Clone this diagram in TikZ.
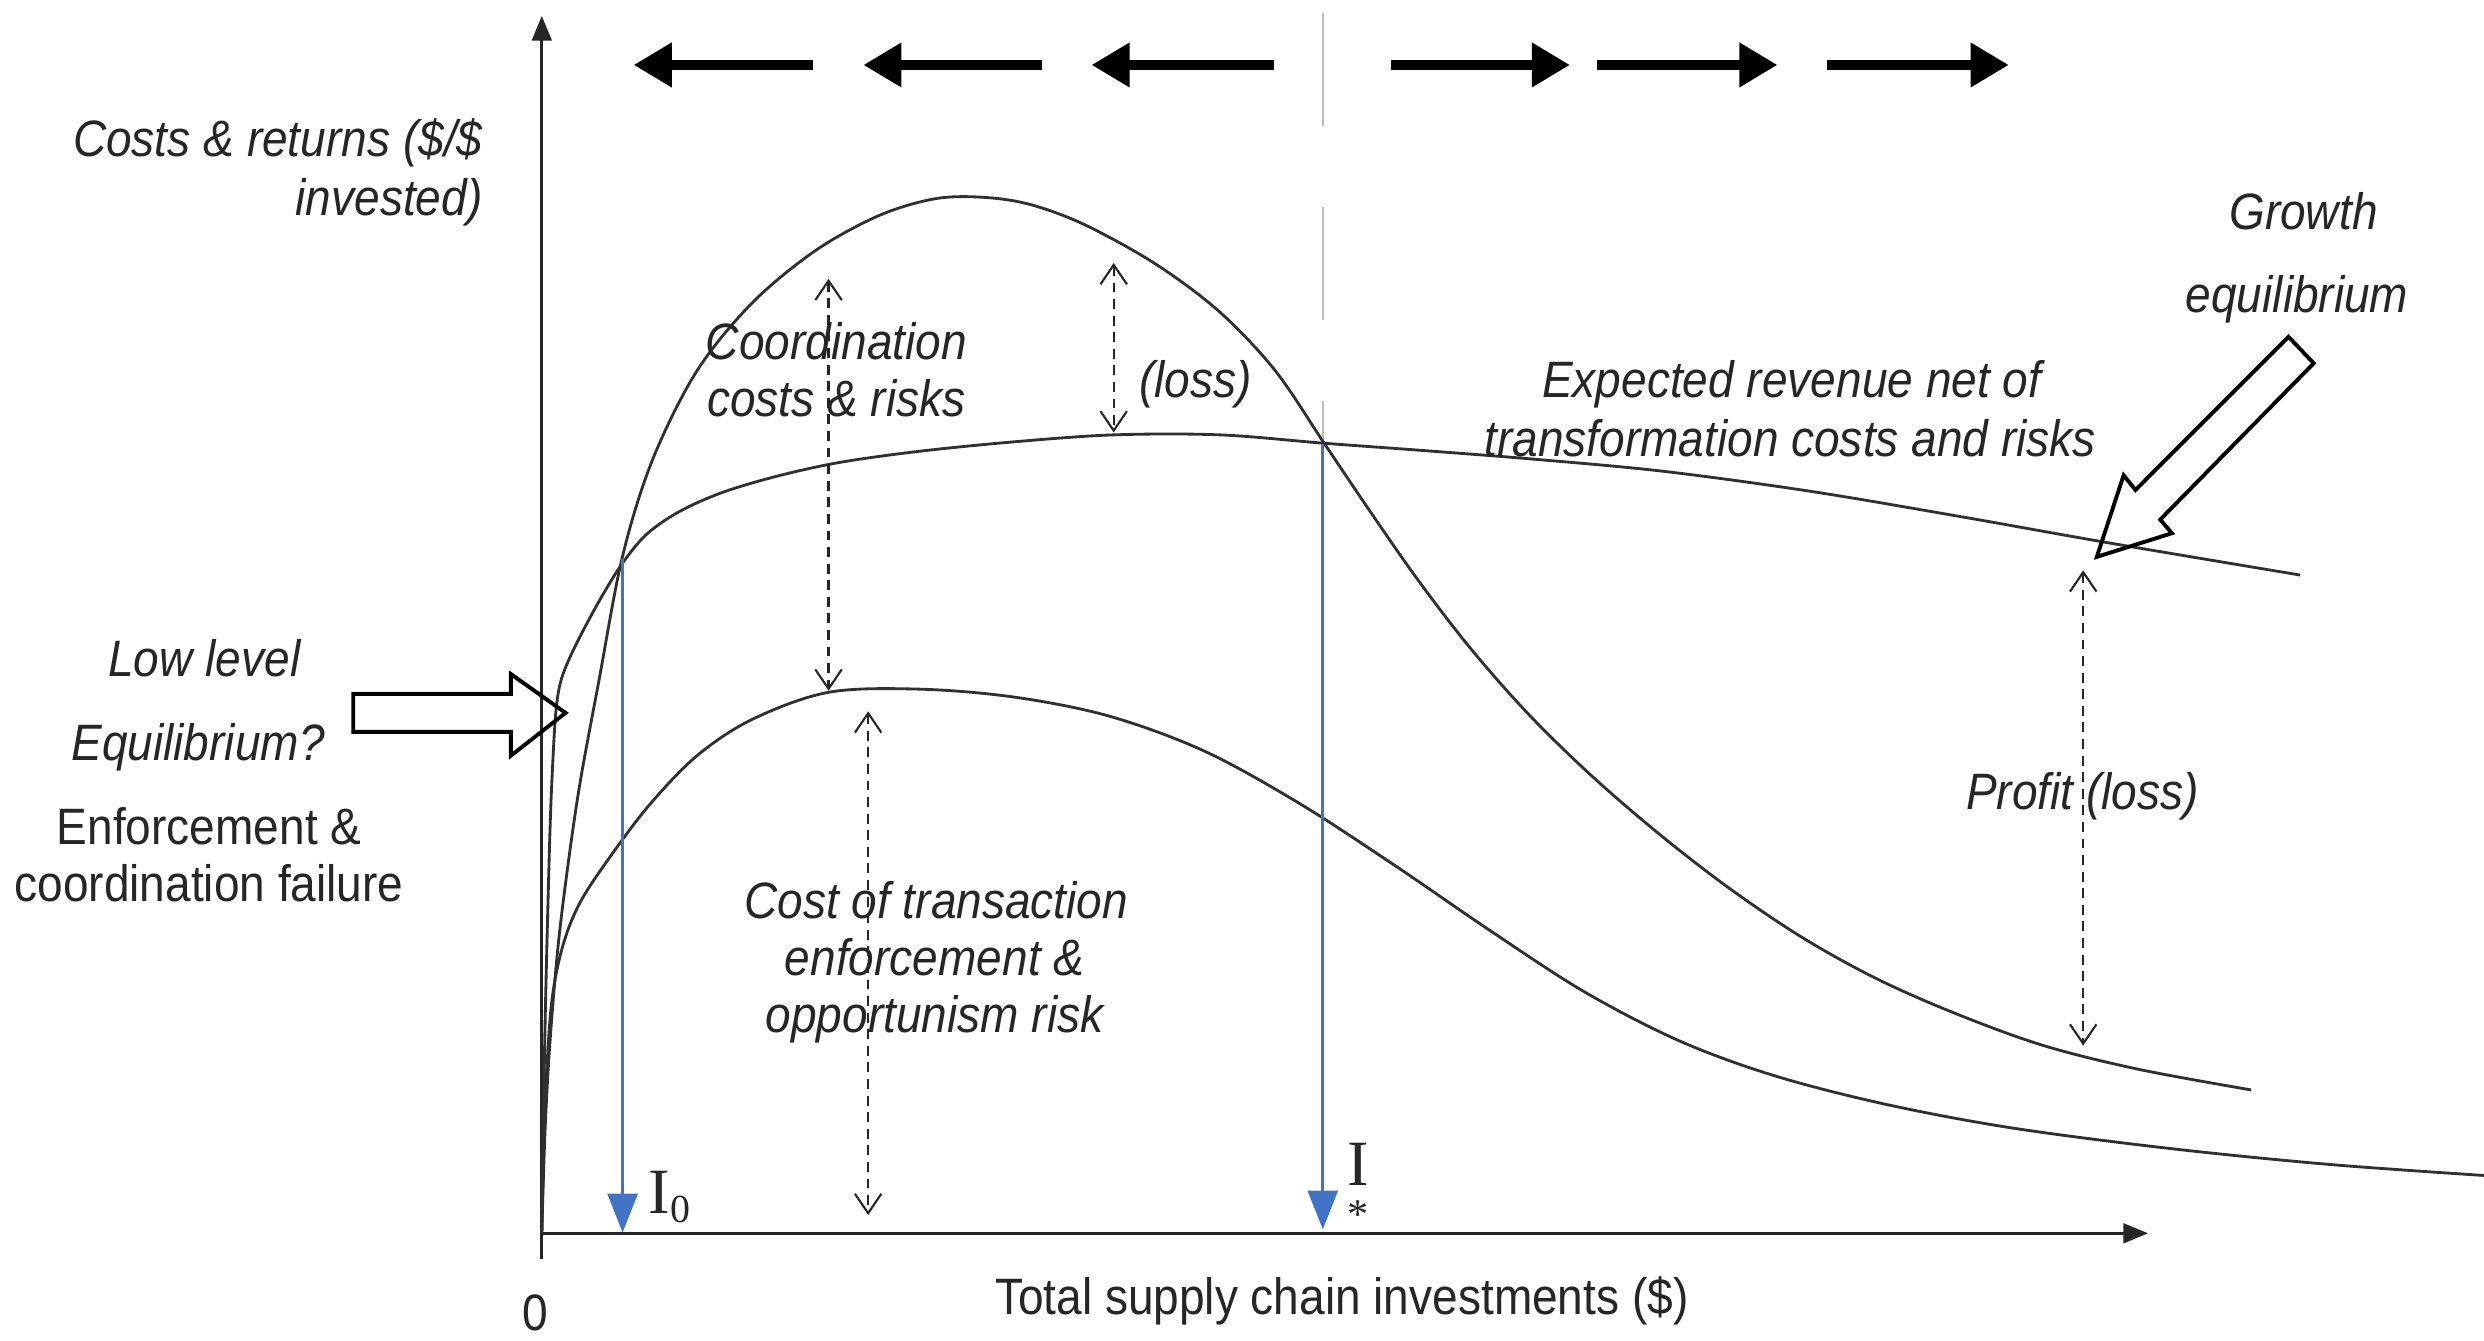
\documentclass[tikz,border=0pt]{standalone}
\usepackage{fontspec}
\setmainfont{Liberation Sans}[FakeStretch=0.9]
\newfontfamily\seriffont{Liberation Serif}
\usetikzlibrary{arrows.meta}
\definecolor{ink}{HTML}{262626}
\definecolor{curvecol}{HTML}{303030}
\definecolor{iblue}{RGB}{66,114,196}
\definecolor{guide}{HTML}{BDBDBD}

\begin{document}
\begin{tikzpicture}[x=0.449pt,y=-0.449pt,
  lbl/.style={font=\fontsize{14.5}{17}\selectfont\itshape, text=ink, inner sep=0pt, anchor=base},
  lblup/.style={font=\fontsize{14.5}{17}\selectfont, text=ink, inner sep=0pt, anchor=base},
  axisline/.style={draw=ink, line width=0.9pt, -{Triangle[length=7pt,width=5.5pt]}},
  costcurve/.style={draw=curvecol, line width=0.8pt},
  flowarrow/.style={draw=black, line width=2.6pt, -{Triangle[length=10.8pt,width=12pt]}},
  marker/.style={draw=iblue, line width=0.8pt, -{Triangle[length=11pt,width=8.5pt,fill=iblue]}},
  gaparrow/.style={draw=ink, line width=0.6pt, dash pattern=on 2.8pt off 1.9pt,
    {Straight Barb[length=5.5pt,width=7.5pt]}-{Straight Barb[length=5.5pt,width=7.5pt]}},
  hollow/.style={draw=black, line width=1.1pt, line join=miter},
  guideline/.style={draw=guide, line width=0.5pt, dash pattern=on 32pt off 23pt},
]
% canvas
\fill[white] (0,0) rectangle (1568,846);
\useasboundingbox (0,0) rectangle (1568,846);

% axes
\coordinate (O) at (342,778.5);
\coordinate (ybot) at (342,795);
\coordinate (ytop) at (342,10);
\coordinate (xend) at (1356,778.5);
\draw[axisline] (ybot) -- (ytop);
\draw[axisline] (O) -- (xend);

% vertical guide through the optimum
\coordinate (gtop) at (835,8);
\coordinate (gbot) at (835,280);
\draw[guideline] (gtop) -- (gbot);

% coordination costs and risks
\draw[costcurve] plot[smooth, tension=0.55] coordinates {
  (342,778) (344,715) (347,660) (352,600) (358,550) (366,495) (378,430)
  (393,351) (412,290) (440,234) (475,191) (515,158) (555,136) (590,125.5)
  (620,124.5) (650,129) (685,142) (730,167) (770,197) (805,234) (836,280)
  (865,323) (895,366) (928,409) (965,451) (1005,490) (1048,527) (1092,561)
  (1138,592) (1185,618) (1235,640) (1290,660) (1350,675) (1421,688)};

% expected revenue net of transformation costs and risks
\draw[costcurve] plot[smooth, tension=0.55] coordinates {
  (342,778) (344,650) (347,530) (349,480) (351,448) (354,430) (360,414.4)
  (370,394.4) (381,374.6) (393,355.4) (408,337.4) (428,323.4) (455,311.2)
  (490,300.7) (530,291.9) (580,284.9) (640,278.9) (703,274.5) (770,274.5)
  (836,279.8) (900,284.5) (970,290) (1050,297.5) (1142,310) (1237,326)
  (1333,343) (1452,363)};

% cost of transaction enforcement and opportunism risk
\draw[costcurve] plot[smooth, tension=0.55] coordinates {
  (342,778) (344,700) (348,635) (355,598) (366,570) (385,541) (410,508)
  (440,477) (475,454) (523,437) (580,435) (640,440) (700,452) (760,474)
  (820,507) (880,546) (940,587) (1000,626) (1060,657) (1120,679)
  (1190,697) (1270,712) (1370,725) (1470,735) (1568,742)};

% investment markers
\coordinate (i0top) at (393,353);
\coordinate (i0bot) at (393,778);
\coordinate (istop) at (835,280);
\coordinate (isbot) at (835,776);
\draw[marker] (i0top) -- (i0bot);
\draw[marker] (istop) -- (isbot);
\node[font=\seriffont\fontsize{18.3}{18}\selectfont, text=ink, inner sep=0pt, anchor=base west]
  (i0lab) at (409,766) {I\raisebox{-0.3ex}{\fontsize{11.3}{12}\selectfont 0}};
\node[font=\seriffont\fontsize{18.3}{12.3}\selectfont, text=ink, inner sep=0pt,
  align=center, anchor=north] (islab) at (857.5,721) {I\\{\fontsize{12}{12}\selectfont *}};

% direction arrows along the top
\coordinate (l1a) at (513,41);  \coordinate (l1b) at (400,41);
\coordinate (l2a) at (658,41);  \coordinate (l2b) at (545,41);
\coordinate (l3a) at (804,41);  \coordinate (l3b) at (689,41);
\coordinate (r1a) at (878,41);  \coordinate (r1b) at (991,41);
\coordinate (r2a) at (1008,41); \coordinate (r2b) at (1122,41);
\coordinate (r3a) at (1153,41); \coordinate (r3b) at (1268,41);
\draw[flowarrow] (l1a) -- (l1b);
\draw[flowarrow] (l2a) -- (l2b);
\draw[flowarrow] (l3a) -- (l3b);
\draw[flowarrow] (r1a) -- (r1b);
\draw[flowarrow] (r2a) -- (r2b);
\draw[flowarrow] (r3a) -- (r3b);

% gaps between the curves
\coordinate (g1a) at (523,176);  \coordinate (g1b) at (523,436);
\coordinate (g2a) at (703,166);  \coordinate (g2b) at (703,273);
\coordinate (g3a) at (548,449);  \coordinate (g3b) at (548,767);
\coordinate (g4a) at (1315,360); \coordinate (g4b) at (1315,660);
\draw[gaparrow] (g1a) -- (g1b);
\draw[gaparrow] (g2a) -- (g2b);
\draw[gaparrow] (g3a) -- (g3b);
\draw[gaparrow] (g4a) -- (g4b);

% hollow block arrows pointing at the two equilibria
\draw[hollow] (223,438) -- (322.5,438) -- (322.5,425.5) -- (357,450) -- (322.5,477)
  -- (322.5,462) -- (223,462) -- cycle;
\draw[hollow] (1444.6,212.6) -- (1348,309.3) -- (1340.5,300) -- (1323.6,351.5)
  -- (1371,336.6) -- (1363.6,328) -- (1460.5,229.3) -- cycle;

% labels
\node[lbl, anchor=base east] (yl1) at (305,99) {Costs \& returns (\$/\$};
\node[lbl, anchor=base east] (yl2) at (305,136) {invested)};
\node[lbl] (co1) at (528,227) {Coordination};
\node[lbl] (co2) at (528,263) {costs \& risks};
\node[lbl] (loss) at (754.5,251) {(loss)};
\node[lbl] (ex1) at (1131,251) {Expected revenue net of};
\node[lbl] (ex2) at (1130,288) {transformation costs and risks};
\node[lbl] (gr1) at (1454,145) {Growth};
\node[lbl] (gr2) at (1450,197) {equilibrium};
\node[lbl] (ll1) at (129,427) {Low level};
\node[lbl] (ll2) at (125,480) {Equilibrium?};
\node[lblup] (ef1) at (132,533) {Enforcement \&};
\node[lblup] (ef2) at (132,569) {coordination failure};
\node[lbl] (ct1) at (591,580) {Cost of transaction};
\node[lbl] (ct2) at (590,616) {enforcement \&};
\node[lbl] (ct3) at (590,652) {opportunism risk};
\node[lbl] (pr) at (1314.5,511) {Profit (loss)};
\node[lblup] (xl) at (847,830) {Total supply chain investments (\$)};
\node[lblup] (zero) at (338,840) {0};
\end{tikzpicture}
\end{document}
